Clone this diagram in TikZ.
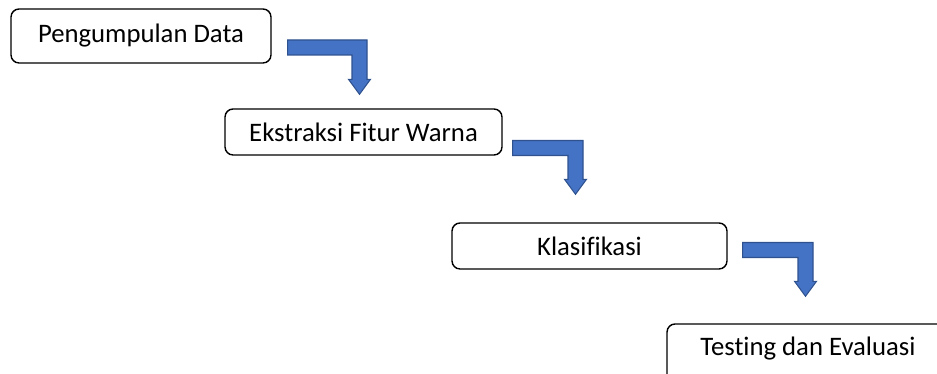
\documentclass[tikz,border=0pt]{standalone}
\usepackage{fontspec}
\setmainfont{Carlito}[Ligatures=NoCommon]
\usepackage{xcolor}
\usetikzlibrary{calc}
\definecolor{arrowfill}{HTML}{4472C4}
\definecolor{arrowline}{HTML}{2F528F}
% bent block arrow: #1 = start of the bar, #2 = tip
\newcommand{\bentarrow}[2]{%
    \path[barrow] let \p1=(#1), \p2=(#2) in
        (\x1,\y1+0.15cm) -- (\x2+0.15cm,\y1+0.15cm) -- (\x2+0.15cm,\y2+0.3cm)
        -- (\x2+0.22cm,\y2+0.3cm) -- (\x2,\y2) -- (\x2-0.22cm,\y2+0.3cm)
        -- (\x2-0.15cm,\y2+0.3cm) -- (\x2-0.15cm,\y1-0.15cm) -- (\x1,\y1-0.15cm) -- cycle;}

\begin{document}
\begin{tikzpicture}[x=0.02cm, y=-0.02cm, font=\fontsize{15.2}{18}\selectfont]
    \tikzstyle{stage}=[draw=black, line width=0.8pt, rounded corners=0.16cm, fill=white, inner sep=0pt, minimum height=0.92cm]
    \tikzstyle{barrow}=[fill=arrowfill, draw=arrowline, line width=0.6pt, line join=miter]

    \useasboundingbox (0,0) rectangle (937,374);
    \clip (0,0) rectangle (937,374);

    \node[stage, minimum width=5.2cm, minimum height=1.08cm] (pd) at (141,36) {Pengumpulan Data};
    \node[stage, minimum width=5.54cm] (eks) at (363.5,132) {Ekstraksi Fitur Warna};
    \node[stage, minimum width=5.5cm] (kls) at (589.5,246) {Klasifikasi};
    % last box runs past the page edge
    \node[stage, minimum width=5.64cm, minimum height=0cm, text height=0.64cm, text depth=0.6cm, anchor=base] (tst) at (808,356) {Testing dan Evaluasi};

    \coordinate (a1s) at ($(pd.east)+(16,11.5)$);
    \coordinate (a1t) at ($(eks.north)+(-4,-14)$);
    \coordinate (a2s) at ($(eks.east)+(10,16)$);
    \coordinate (a2t) at ($(kls.north)+(-14,-28)$);
    \coordinate (a3s) at ($(kls.east)+(15,4)$);
    \coordinate (a3t) at ($(tst.north)+(-2.5,-27)$);

    \bentarrow{a1s}{a1t}
    \bentarrow{a2s}{a2t}
    \bentarrow{a3s}{a3t}
\end{tikzpicture}
\end{document}
